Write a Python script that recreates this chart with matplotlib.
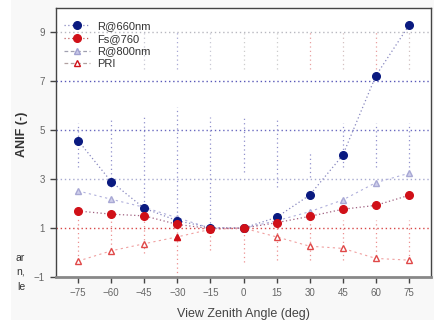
import matplotlib.pyplot as plt
from matplotlib.lines import Line2D

plt.rcParams['font.family'] = ['Liberation Sans', 'DejaVu Sans']

vza = [-75, -60, -45, -30, -15, 0, 15, 30, 45, 60, 75]
r660 = [4.58, 2.90, 1.81, 1.30, 1.02, 1.0, 1.44, 2.35, 3.98, 7.23, 9.29]
f760 = [1.70, 1.57, 1.50, 1.15, 0.98, 1.0, 1.22, 1.48, 1.77, 1.93, 2.34]
r800 = [2.52, 2.18, 1.85, 1.42, 1.00, 1.0, 1.30, 1.67, 2.15, 2.86, 3.24]
pri = [-0.35, 0.07, 0.36, 0.64, 0.95, 1.0, 0.64, 0.26, 0.17, -0.24, -0.31]

# dotted vertical bars (as they appear in the scan)
blue_lo = [3.5, 2.7, 1.9, 1.3, 1.2, 3.3, 2.7, 3.1, 3.5, 3.5, 3.5]
blue_hi = [5.3, 5.55, 5.55, 5.96, 5.55, 5.55, 5.55, 4.1, 5.3, 5.3, 5.3]
red_lo = [-0.3, 0.0, 0.0, -1.0, 0.1, -0.4, -0.3, -0.3, -0.3, -0.3, -0.3]
red_hi = [1.45, 1.45, 1.45, 1.2, 0.9, 1.0, 1.45, 1.35, 1.35, 1.35, 1.35]
top_x = [-45, -30, -15, 0, 15, 30, 45, 60, 75]
top_col = ['#c8c8d4', '#a8a8d4', '#c8c8d4', '#cccccc', '#cccccc', '#e8a0a0', '#d4c0c0', '#e8a0a0', '#d0c0c0']

yticks = [-1, 1, 3, 5, 7, 9]
hgrid_col = ['#d84848', '#a8aad0', '#6a6ac0', '#5858b8', '#b8b8c0']

navy = '#0a1a80'
red = '#d01018'
dots = (1, 2)

fig = plt.figure(figsize=(4.34, 3.2), dpi=100, facecolor='#f8f8f8')
fig.patches.append(plt.Rectangle((0, 0), 11 / 434, 1, transform=fig.transFigure,
                                 facecolor='white', edgecolor='none'))
ax = fig.add_axes([56 / 434, 43 / 320, 375 / 434, 269 / 320])
ax.set_facecolor('white')

# horizontal grid
for yv, c in zip(yticks[1:], hgrid_col):
    ax.axhline(yv, color=c, lw=1.0, zorder=1, dashes=dots)

# vertical dotted bars
ax.vlines(vza, blue_lo, blue_hi, colors='#9090cc', linestyles=(0, (1, 2.5)), lw=0.9, zorder=1)
ax.vlines(vza, red_lo, red_hi, colors='#ec9090', linestyles=(0, (1, 2.5)), lw=0.9, zorder=1)
ax.vlines(top_x, 7.5, 9.0, colors=top_col, linestyles=(0, (1, 2.5)), lw=0.9, zorder=1)

ax.plot(vza, r800, color='#b0b0dc', lw=0.8, marker='^', ms=4.5,
        mfc='#d0d0ec', mec='#a8a8d4', zorder=3, dashes=(2, 3))
ax.plot(vza, pri, color='#f0a0a0', lw=0.8, marker='^', ms=4.5,
        mfc='white', mec='#e04848', zorder=3, dashes=(2, 3))
ax.plot(vza[3], pri[3], ls='none', marker='^', ms=5, color=red, zorder=4)
ax.plot(vza, r660, color='#8888c0', lw=0.9, marker='o', ms=5.5,
        mfc=navy, mec=navy, zorder=5, dashes=dots)
ax.plot(vza, f760, color='#a06080', lw=0.9, marker='o', ms=5.5,
        mfc=red, mec=red, zorder=5, dashes=dots)

ax.set_xlim(-85, 85)
ax.set_ylim(-1, 10)
ax.set_xticks(vza)
ax.set_yticks(yticks)
ax.tick_params(direction='out', length=4, width=1, color='#444444',
               labelsize=7, labelcolor='#666666', pad=4)
for s in ['left', 'top', 'right']:
    ax.spines[s].set_color('#444444')
    ax.spines[s].set_linewidth(1.0)
ax.spines['bottom'].set_color('#888888')
ax.spines['bottom'].set_linewidth(2.0)

ax.set_xlabel('View Zenith Angle (deg)', fontsize=9, color='#444444', labelpad=7)
ax.set_ylabel('ANIF (-)', fontsize=9, color='#333333', fontweight='bold')
ax.yaxis.set_label_coords(-28 / 375, 0.53)

handles = [
    Line2D([], [], color='#8888c0', lw=0.9, dashes=dots, marker='o', ms=5.5, mfc=navy, mec=navy),
    Line2D([], [], color='#c06060', lw=0.9, dashes=dots, marker='o', ms=5.5, mfc=red, mec=red),
    Line2D([], [], color='#a0a0b0', lw=0.9, dashes=(3, 2), marker='^', ms=4.5, mfc='#c8c8e8', mec='#a0a0d0'),
    Line2D([], [], color='#b0a0a0', lw=0.9, dashes=(3, 2), marker='^', ms=4.5, mfc='white', mec=red),
]
labels = ['R@660nm', 'Fs@760', 'R@800nm', 'PRI']
leg = ax.legend(handles, labels, loc='upper left', frameon=False, fontsize=8,
                handlelength=2.3, labelspacing=0.25, borderaxespad=0.0,
                handletextpad=0.7, bbox_to_anchor=(0.01, 0.968))
for t in leg.get_texts():
    t.set_color('#333333')

# fragments of neighbouring page text
for txt, yp in [('ar', 258), ('n,', 272), ('le', 287)]:
    fig.text(25 / 434, 1 - yp / 320, txt, ha='right', va='center', fontsize=7.5, color='#333333')

fig.savefig('out.png', dpi=100, facecolor=fig.get_facecolor())
